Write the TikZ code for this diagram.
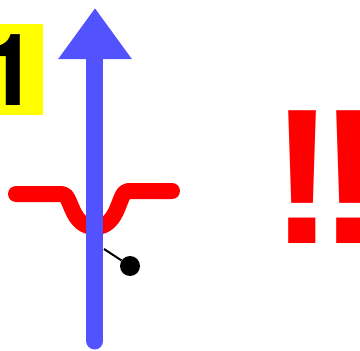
\documentclass[tikz,border=0pt]{standalone}
\usepackage{fontspec}
\setmainfont{Liberation Sans}
\newfontfamily\gyre{TeX Gyre Heros}
\usetikzlibrary{positioning,arrows.meta}
\definecolor{boxyellow}{RGB}{255,255,0}
\definecolor{signred}{RGB}{255,0,0}
\definecolor{arrowblue}{RGB}{82,82,255}

\begin{document}
\begin{tikzpicture}[x=1pt, y=-1pt,
    shaft/.style={draw=arrowblue, line width=17pt, line cap=round},
    wave/.style={draw=signred, line width=16pt, line cap=round, line join=round},
    dot/.style={circle, fill=black, inner sep=0pt, minimum size=20pt},
    every node/.style={font=\bfseries}]
    \useasboundingbox (0,0) rectangle (360,351);
    \clip (0,0) rectangle (360,351);
    % label box
    \node[fill=boxyellow, anchor=north east, minimum width=73pt, minimum height=91pt,
          inner sep=0pt, font=\gyre\fontsize{100}{100}\selectfont\bfseries] (num) at (43,24) {1\kern-7pt};
    % red curve
    \coordinate (wl) at (16,194);
    \coordinate (wr) at (172,191);
    \draw[wave] (wl) -- (62,194) .. controls (72,194) and (70,227) .. (95,227)
        .. controls (120,227) and (118,191) .. (128,191) -- (wr);
    % arrow
    \coordinate (bot) at (95,341);
    \coordinate (tip) at (95,8);
    \draw[shaft, -{Triangle[width=70pt, length=51pt, line cap=butt]}] (bot) -- (tip);
    % ball
    \node[dot] (ball) at (130,266) {};
    \coordinate (stick) at (104,249);
    \draw[line width=2pt] (stick) -- (ball);
    % exclamation
    \node[text=signred, anchor=base west, inner sep=0pt,
          font=\fontsize{193}{193}\selectfont\bfseries] (bang) at (270,243) {!\kern-16pt!};
\end{tikzpicture}
\end{document}
